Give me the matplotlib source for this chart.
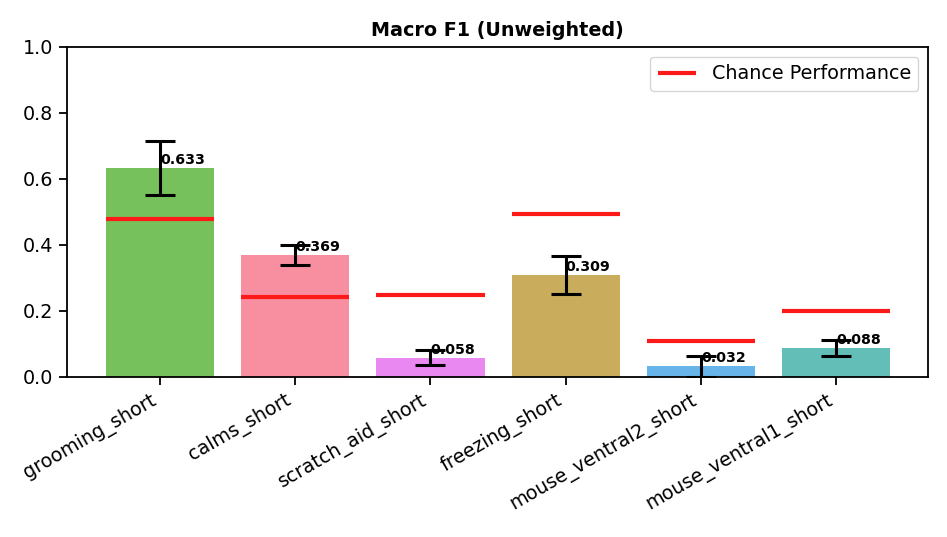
import matplotlib
matplotlib.use("Agg")
import matplotlib.pyplot as plt

categories = ["grooming_short", "calms_short", "scratch_aid_short", "freezing_short",
              "mouse_ventral2_short", "mouse_ventral1_short"]
f1_values = [0.633, 0.369, 0.058, 0.309, 0.032, 0.088]
f1_errors = [0.081, 0.031, 0.023, 0.058, 0.033, 0.023]
chance_values = [0.479, 0.241, 0.249, 0.493, 0.110, 0.199]
bar_colors = ["#76c15b", "#f78fa1", "#ea88f1", "#c9ac5c", "#66b4ea", "#62beb7"]

plt.rcParams["font.family"] = "DejaVu Sans"
plt.rcParams["font.size"] = 13.8

fig = plt.figure(figsize=(9.47, 5.37), dpi=100)
ax = fig.add_axes([0.0704, 0.298, 0.9096, 0.6145])

x = list(range(len(categories)))
ax.bar(x, f1_values, width=0.8, color=bar_colors, zorder=1)
ax.errorbar(x, f1_values, yerr=f1_errors, fmt="none", ecolor="black",
            elinewidth=2.2, capsize=10.5, capthick=2.2, zorder=3)
for i, c in enumerate(chance_values):
    ax.hlines(c, i - 0.4, i + 0.4, colors="#ff1a1a", linewidth=3,
              label="Chance Performance" if i == 0 else None, zorder=2)
for i, v in enumerate(f1_values):
    ax.text(i, v + 0.004, f"{v:.3f}", ha="left", va="bottom",
            fontsize=10.2, fontweight="bold", zorder=4)

ax.set_xlim(-0.69, 5.68)
ax.set_ylim(0, 1.0)
ax.set_xticks(x)
ax.set_xticklabels(categories, rotation=30, ha="right")
ax.set_yticks([0, 0.2, 0.4, 0.6, 0.8, 1.0])
ax.tick_params(length=6, width=1.3)
for s in ax.spines.values():
    s.set_linewidth(1.3)
ax.set_title("Macro F1 (Unweighted)", fontsize=13.8, fontweight="bold", pad=8)
ax.legend(loc="upper right", fontsize=13.8, handlelength=2.0)

fig.savefig("out.png", dpi=100)
